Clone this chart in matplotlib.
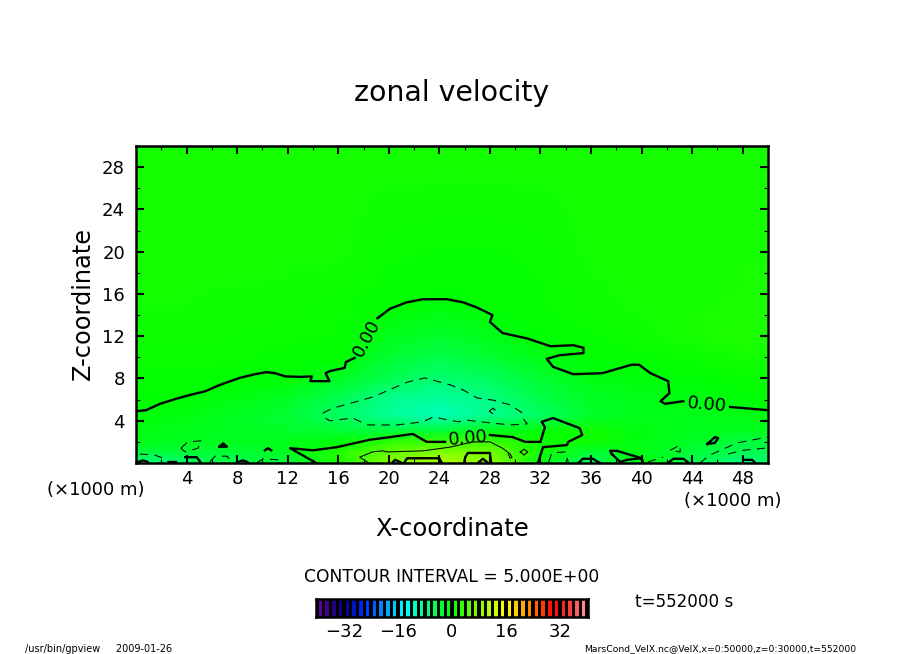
import numpy as np
import matplotlib
matplotlib.use("Agg")
import matplotlib.pyplot as plt
from matplotlib.colors import LinearSegmentedColormap
from matplotlib.ticker import MultipleLocator

W, H = 904, 654
plt.rcParams['font.family'] = ['DejaVu Sans']

# zonal velocity field (m/s) read by eye
x_grid = [0, 4, 8, 12, 16, 20, 24, 28, 32, 36, 40, 44, 48, 50]
z_grid = [0, 1, 2, 3, 4.5, 6, 8, 10, 12, 15, 20, 30]
u_z0  = [-8, -6.5, -4.5, -3.5, 1.5, 8, 11, 9, -1.5, -6, -1, -5, -8, -7]
u_z1  = [-4, -3.5, -3, -2, 2, 6, 8, 7, 1, -3, -1, -3.5, -5, -5]
u_z2  = [-1.5, -2, -2, -1.5, -.3, 2.5, 4, 3.5, .8, .8, -1, -2.2, -4, -3.5]
u_z3  = [-1, -1.5, -2, -2.5, -3, -3.5, -3, -1.5, -.3, 1, -.8, -1.6, -2, -1.8]
u_z4  = [-.5, -1, -2, -3.2, -6, -9, -10.5, -8.5, -6, -2.5, -1.5, -1.5, -1, -.5]
u_z6  = [0, -.3, -1, -2.2, -5, -8.5, -9.5, -8, -4.5, -2.2, -1.5, -1, -.5, 0]
u_z8  = [.3, .2, 0, -.3, -2, -5, -7, -5.5, -3, -1, -.6, -.2, .2, .3]
u_z10 = [.6, .6, .5, .3, .1, -3, -4.5, -3, -1.2, .05, .2, .6, 1.2, 1]
u_z12 = [.8, .8, .7, .6, .4, -1.5, -2.8, -1.5, .1, .4, .9, 1.4, 2, 1.7]
u_z15 = [1, 1, .9, .8, .6, .1, -.4, .1, .4, .8, 1.2, 1.3, 1.5, 1.5]
u_z20 = [1.3, 1.3, 1.3, 1.2, 1.1, .6, .4, .4, .6, 1.2, 1.3, 1.3, 1.3, 1.3]
u_z30 = [1.4] * 14
u_rows = [u_z0, u_z1, u_z2, u_z3, u_z4, u_z6, u_z8, u_z10, u_z12, u_z15, u_z20, u_z30]

# thick contours (x in km, z in km)
zero_a = [(0,4.9),(.8,5),(1.9,5.6),(3.1,6.05),(4.3,6.45),(5.5,6.8),(6.65,7.4),(8.2,8.05),(9.4,8.4),
          (10.3,8.6),(11,8.5),(11.8,8.2),(13,8.15),(13.9,8.2),(13.8,7.75),(15.3,7.75),(15,8.5),
          (15.35,8.7),(16.5,9),(16.6,9.55),(17.3,9.95)]
zero_b = [(19.1,13.7),(20.1,14.6),(21.4,15.2),(22.7,15.5),(24.6,15.5),(25.9,15.2),(27,14.7),(28.2,14),
          (28,13.35),(29,12.3),(30.9,11.8),(32.8,11.05),(34.6,11.15),(35.4,10.9),(35.4,10.4),(33.5,10.2),
          (32.5,9.85),(33,9.1),(34.6,8.4),(36.9,8.5),(39.2,9.3),(39.8,9.3),(40.7,8.5),(42.1,7.75),
          (42.2,6.6),(41.5,5.85),(41.85,5.6),(43.3,5.85)]
zero_c = [(47,5.3),(50,5)]
zero_d = [(14.25,0),(12.2,1.4),(14,1.2),(15.9,1.5),(18.5,2.2),(20.1,2.45),(21.9,2.75),(23,2),(24.45,2)]
zero_e = [(28,2.65),(29.8,2.45),(30.8,2),(32,2),(32.35,3.4),(32.1,3.9),(33,4.25),(35.1,3.3),(35.3,2.65),
          (34.2,2),(34.1,1.7),(32.2,1.5),(31.8,0)]
box_a = [(3.9,.55),(4.8,.55),(5.15,0)]
box_b = [(21.2,0),(21.45,.45),(24,.45),(24.2,0)]
arch_a = [(20.25,0),(20.5,.3),(21.05,0)]
arch_b = [(25.95,0),(26.05,.55),(26.25,.95),(28,.95),(28.1,0)]
arch_c = [(27.05,0),(27.45,.4),(27.85,0)]
arch_d = [(35,0),(35.35,.4),(36.15,.4),(36.7,0)]
wedge = [(37.65,.85),(37.5,1.15),(38.05,1.15),(40,.45),(40.1,0),(40,.45),(38.85,.3),(38.3,.1),(37.65,.85)]
arch_e = [(42.1,0),(42.5,.4),(43.3,.4),(43.75,0)]
arch_f = [(48.2,.3),(48.75,.3),(49,0)]
loop_a = [(45.2,1.8),(45.8,2.45),(46.05,2.35),(45.8,1.9),(45.2,1.8)]
spot_a = [(6.6,1.55),(6.9,1.85),(7.2,1.55),(6.6,1.55)]
spot_b = [(10.2,1.2),(10.45,1.4),(10.7,1.2)]
spot_c = [(.2,.1),(.55,.25),(.9,.1)]
spot_d = [(2.6,.1),(3.2,.1)]
spot_e = [(8.1,.1),(8.45,.25),(8.8,.1)]
thick_lines = [zero_a, zero_b, zero_c, zero_d, zero_e, box_a, box_b, arch_a, arch_b, arch_c, arch_d,
               wedge, arch_e, arch_f, loop_a, spot_a, spot_b, spot_c, spot_d, spot_e]

# thin contours
five_a = [(18.3,.1),(17.7,.55),(18.7,1.05),(19.5,1.15),(19.9,1.05),(22.7,1.15),(24.85,1.5),(26.65,2),
          (28,2),(29,1.4),(29.6,.85),(29.75,.55),(29.6,.45),(29.45,.85)]
five_b = [(30.4,1.05),(30.7,1.3),(31,1.05),(30.7,.75),(30.4,1.05)]
thin_lines = [five_a, five_b]

# dashed contours
neg_a = [(14.8,4.75),(15.6,5.2),(18.75,6.25),(21.45,7.65),(22.85,8.05),(24.85,7.4),(25.9,6.9),(27,6.15),
         (28.25,5.95),(29.6,5.5),(30.55,4.75),(30.6,4.25),(30.95,3.7),(29.6,3.6),(28,3.8),(26.2,4.05),
         (25.5,3.9),(23.5,4.35),(22.7,3.9),(20.65,3.6),(18.3,3.6),(17.15,4.25),(15.35,4),(14.8,4.35),(14.8,4.75)]
neg_b = [(27.95,4.9),(28.25,5.2),(28.55,4.85),(28.25,4.65),(27.95,4.9)]
neg_c = [(3.55,1.4),(4.1,2),(5.2,2.1),(4.9,1.4),(3.9,1.05),(3.55,1.4)]
neg_d = [(.3,.85),(1.5,.75),(2.15,.45),(2.55,.1)]
neg_e = [(5.85,.1),(6.25,.65),(7.2,.65),(7.6,0)]
neg_f = [(9.55,0),(10.05,.4),(11.25,.3)]
neg_g = [(32.65,.1),(32.9,.95),(33.95,1.05),(34.2,.1)]
neg_h = [(40.5,.1),(41.7,.55)]
neg_i = [(42.25,1.2),(43.05,1.7),(43.05,1.05),(42.25,1.2)]
neg_j = [(44.6,0),(45.4,.75),(47.55,1.9),(49.5,2.35),(50,2.45)]
neg_k = [(46.85,.85),(48,1.2),(49.75,1.4)]
dashed_lines = [neg_a, neg_b, neg_c, neg_d, neg_e, neg_f, neg_g, neg_h, neg_i, neg_j, neg_k]

x_ticks = list(range(4, 49, 4))
z_ticks = list(range(4, 29, 4))
cbar_ticks = [-32, -16, 0, 16, 32]
cbar_levels = np.arange(-39, 40, 2)

cmap_stops = [(-40,(110,0,170)),(-36,(50,0,130)),(-32,(0,0,140)),(-26,(0,40,255)),(-20,(0,150,255)),
              (-14,(0,255,255)),(-8,(0,255,130)),(0,(0,255,0)),(8,(130,255,0)),(16,(255,255,0)),
              (24,(255,120,0)),(30,(255,0,0)),(36,(255,70,70)),(40,(255,160,160))]
cmap = LinearSegmentedColormap.from_list(
    'gp', [((v + 40) / 80, tuple(c / 255 for c in rgb)) for v, rgb in cmap_stops], N=512)


def axes_px(x0, y0, x1, y1):
    return fig.add_axes([x0 / W, 1 - y1 / H, (x1 - x0) / W, (y1 - y0) / H])


def label(px, py, s, size, **kw):
    kw.setdefault('ha', 'center')
    kw.setdefault('va', 'center')
    fig.text(px / W, 1 - py / H, s, fontsize=size, color='black', **kw)


fig = plt.figure(figsize=(W / 100, H / 100), dpi=100, facecolor='white')
ax = axes_px(136, 146, 768, 463)
ax.pcolormesh(x_grid, z_grid, np.array(u_rows), cmap=cmap, vmin=-40, vmax=40, shading='gouraud')
for line in thick_lines:
    ax.plot(*zip(*line), color='black', lw=1.7, solid_joinstyle='round', clip_on=True)
for line in thin_lines:
    ax.plot(*zip(*line), color='black', lw=0.75)
for line in dashed_lines:
    ax.plot(*zip(*line), color='black', lw=0.75, dashes=(8, 6))
ax.set_xlim(0, 50)
ax.set_ylim(0, 30)
ax.set_xticks(x_ticks)
ax.set_yticks(z_ticks)
ax.xaxis.set_minor_locator(MultipleLocator(2))
ax.yaxis.set_minor_locator(MultipleLocator(2))
ax.tick_params(which='major', direction='in', top=True, right=True, length=6, width=1.5, labelsize=13)
ax.tick_params(which='minor', direction='in', top=True, right=True, length=3, width=0.8)
ax.tick_params(axis='x', pad=5)
ax.tick_params(axis='y', pad=8)
for s in ax.spines.values():
    s.set_linewidth(1.8)

ax.text(18.25, 11.8, '0.00', rotation=62, fontsize=13, ha='center', va='center', rotation_mode='anchor')
ax.text(26.3, 2.35, '0.00', rotation=5, fontsize=13, ha='center', va='center', rotation_mode='anchor')
ax.text(45.2, 5.5, '0.00', rotation=-5, fontsize=13, ha='center', va='center', rotation_mode='anchor')

label(452, 93, 'zonal velocity', 20.4)
label(452, 529, 'X-coordinate', 17.5)
label(83, 304, 'Z-coordinate', 17.3, rotation=90)
label(96, 490, '(×1000 m)', 13)
label(733, 501, '(×1000 m)', 13)
label(452, 577, 'CONTOUR INTERVAL = 5.000E+00', 12.35)
label(684, 602, 't=552000 s', 12.1)
label(25, 649, '/usr/bin/gpview     2009-01-26', 7, ha='left')
label(584, 649, 'MarsCond_VelX.nc@VelX,x=0:50000,z=0:30000,t=552000', 6.7, ha='left')

cax = axes_px(316, 599, 588, 617)
cax.set_facecolor('black')
cax.bar(cbar_levels, np.ones_like(cbar_levels), width=1.0, bottom=0, color=cmap((cbar_levels + 40) / 80))
cax.set_xlim(-40.3, 40.3)
cax.set_ylim(0, 1)
cax.set_yticks([])
cax.set_xticks(cbar_ticks)
cax.set_xticklabels(['\u2212' + str(-t) if t < 0 else str(t) for t in cbar_ticks], fontsize=13)
cax.tick_params(axis='x', length=0, pad=4)
for s in cax.spines.values():
    s.set_linewidth(1.8)

fig.savefig('out.png', dpi=100, facecolor='white')
